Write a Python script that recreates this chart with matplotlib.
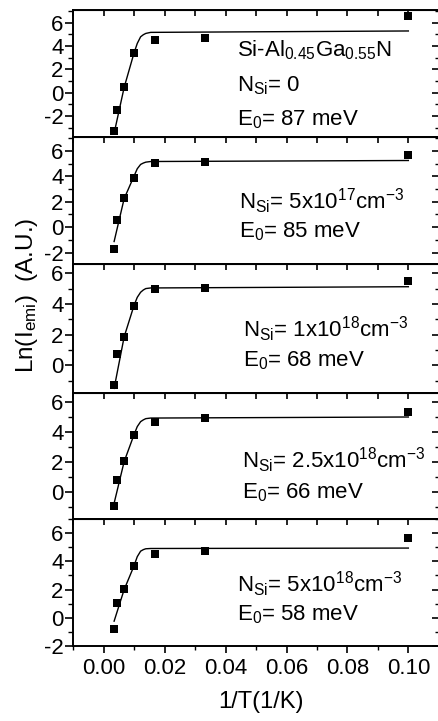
import matplotlib
matplotlib.use('Agg')
import matplotlib.pyplot as plt
from matplotlib.ticker import MultipleLocator, FormatStrFormatter

plt.rcParams['font.family'] = 'Liberation Sans'
plt.rcParams['mathtext.fontset'] = 'custom'
plt.rcParams['mathtext.rm'] = 'Liberation Sans'
plt.rcParams['mathtext.it'] = 'Liberation Sans:italic'
plt.rcParams['mathtext.default'] = 'regular'
plt.rcParams['axes.unicode_minus'] = False

# =============================================================================
# Data
# =============================================================================

inv_T = [0.0033, 0.0045, 0.0067, 0.0100, 0.0167, 0.0333, 0.1000]

ln_I_nsi0 = [-3.26, -1.49, 0.46, 3.38, 4.49, 4.69, 6.60]
ln_I_5e17 = [-1.70, 0.53, 2.28, 3.90, 5.04, 5.14, 5.72]
ln_I_1e18 = [-1.30, 0.73, 1.86, 3.86, 5.00, 5.06, 5.52]
ln_I_25e18 = [-0.95, 0.83, 2.05, 3.83, 4.67, 4.93, 5.33]
ln_I_5e18 = [-0.78, 1.04, 2.01, 3.64, 4.49, 4.72, 5.67]

fit_x = [0.0034, 0.0067, 0.0099, 0.0110, 0.0121, 0.0130, 0.0138, 0.0154, 0.1000]
fit_nsi0 = [-3.48, 0.46, 3.38, 4.23, 4.80, 4.98, 5.09, 5.18, 5.30]
fit_5e17 = [-1.13, 2.25, 4.00, 4.60, 4.94, 5.05, 5.12, 5.17, 5.25]
fit_1e18 = [-1.50, 1.86, 3.88, 4.43, 4.76, 4.91, 5.00, 5.04, 5.12]
fit_25e18 = [-0.75, 2.03, 3.80, 4.36, 4.69, 4.81, 4.89, 4.93, 5.00]
fit_5e18 = [-0.24, 2.00, 3.66, 4.33, 4.72, 4.83, 4.89, 4.91, 4.94]

ylims = [(-3.8, 7.1), (-2.9, 7.1), (-1.8, 6.6), (-1.8, 6.6), (-2.0, 7.0)]

labels = [
    [r'Si-Al$_{0.45}$Ga$_{0.55}$N', r'N$_{Si}$= 0', r'E$_{0}$= 87 meV'],
    [r'N$_{Si}$= 5x10$^{17}$cm$^{-3}$', r'E$_{0}$= 85 meV'],
    [r'N$_{Si}$= 1x10$^{18}$cm$^{-3}$', r'E$_{0}$= 68 meV'],
    [r'N$_{Si}$= 2.5x10$^{18}$cm$^{-3}$', r'E$_{0}$= 66 meV'],
    [r'N$_{Si}$= 5x10$^{18}$cm$^{-3}$', r'E$_{0}$= 58 meV'],
]

points = [ln_I_nsi0, ln_I_5e17, ln_I_1e18, ln_I_25e18, ln_I_5e18]
fits = [fit_nsi0, fit_5e17, fit_1e18, fit_25e18, fit_5e18]

# =============================================================================
# Layout (pixels)
# =============================================================================

W, H = 438., 721.
fig = plt.figure(figsize=(W / 100, H / 100), dpi=100)

left_px, right_px = 73.3, 438.8
tops = [10, 137, 264, 393, 519]
bots = [137, 264, 393, 519, 646]
text_x = [236.7, 239.3, 243.3, 241.7, 237.3]
text_y = [[56.7, 91.7, 125.0], [209.3, 237.3], [336.7, 366.7], [468.3, 498.3], [591.7, 620.0]]

for i in range(5):
    ax = fig.add_axes([left_px / W, 1 - bots[i] / H, (right_px - left_px) / W, (bots[i] - tops[i]) / H])
    ax.plot(fit_x, fits[i], c='k', lw=1.0)
    ax.plot(inv_T, points[i], 's', c='k', ms=5.5, mew=0)
    ax.set_xlim(-0.01, 0.11)
    ax.set_ylim(*ylims[i])
    ax.yaxis.set_major_locator(MultipleLocator(2))
    ax.yaxis.set_minor_locator(MultipleLocator(1))
    ax.xaxis.set_major_locator(MultipleLocator(0.02))
    ax.xaxis.set_minor_locator(MultipleLocator(0.01))
    ax.xaxis.set_major_formatter(FormatStrFormatter('%.2f'))
    for s in ax.spines.values():
        s.set_linewidth(1.4)
    ax.tick_params(axis='y', which='major', direction='out', length=6, width=1.2, labelsize=16, pad=1)
    ax.tick_params(axis='y', which='minor', direction='out', length=3.5, width=1.0)
    ax.tick_params(axis='x', which='major', direction='out', length=5, width=1.2, labelsize=16, pad=4)
    ax.tick_params(axis='x', which='minor', direction='out', length=3, width=1.0)
    if i < 4:
        ax.tick_params(axis='x', which='both', bottom=False, labelbottom=False)

    top = ax.secondary_xaxis('top')
    top.xaxis.set_major_locator(MultipleLocator(0.01))
    top.tick_params(direction='in', length=4, width=1.2, labeltop=False)
    right = ax.secondary_yaxis('right')
    right.yaxis.set_major_locator(MultipleLocator(2))
    right.yaxis.set_minor_locator(MultipleLocator(1))
    right.tick_params(which='major', direction='in', length=5, width=1.2, labelright=False)
    right.tick_params(which='minor', direction='in', length=3, width=1.0)

    for txt, ty in zip(labels[i], text_y[i]):
        fig.text(text_x[i] / W, 1 - ty / H, txt, fontsize=16, ha='left', va='baseline')

fig.text(27 / W, 1 - 295 / H, r'Ln(I$_{emi}$)  (A.U.)', rotation=90, fontsize=17.5, ha='center', va='center')
fig.text(261 / W, 1 - 702 / H, '1/T(1/K)', fontsize=17, ha='center', va='center')

fig.savefig('out.png', dpi=100)
